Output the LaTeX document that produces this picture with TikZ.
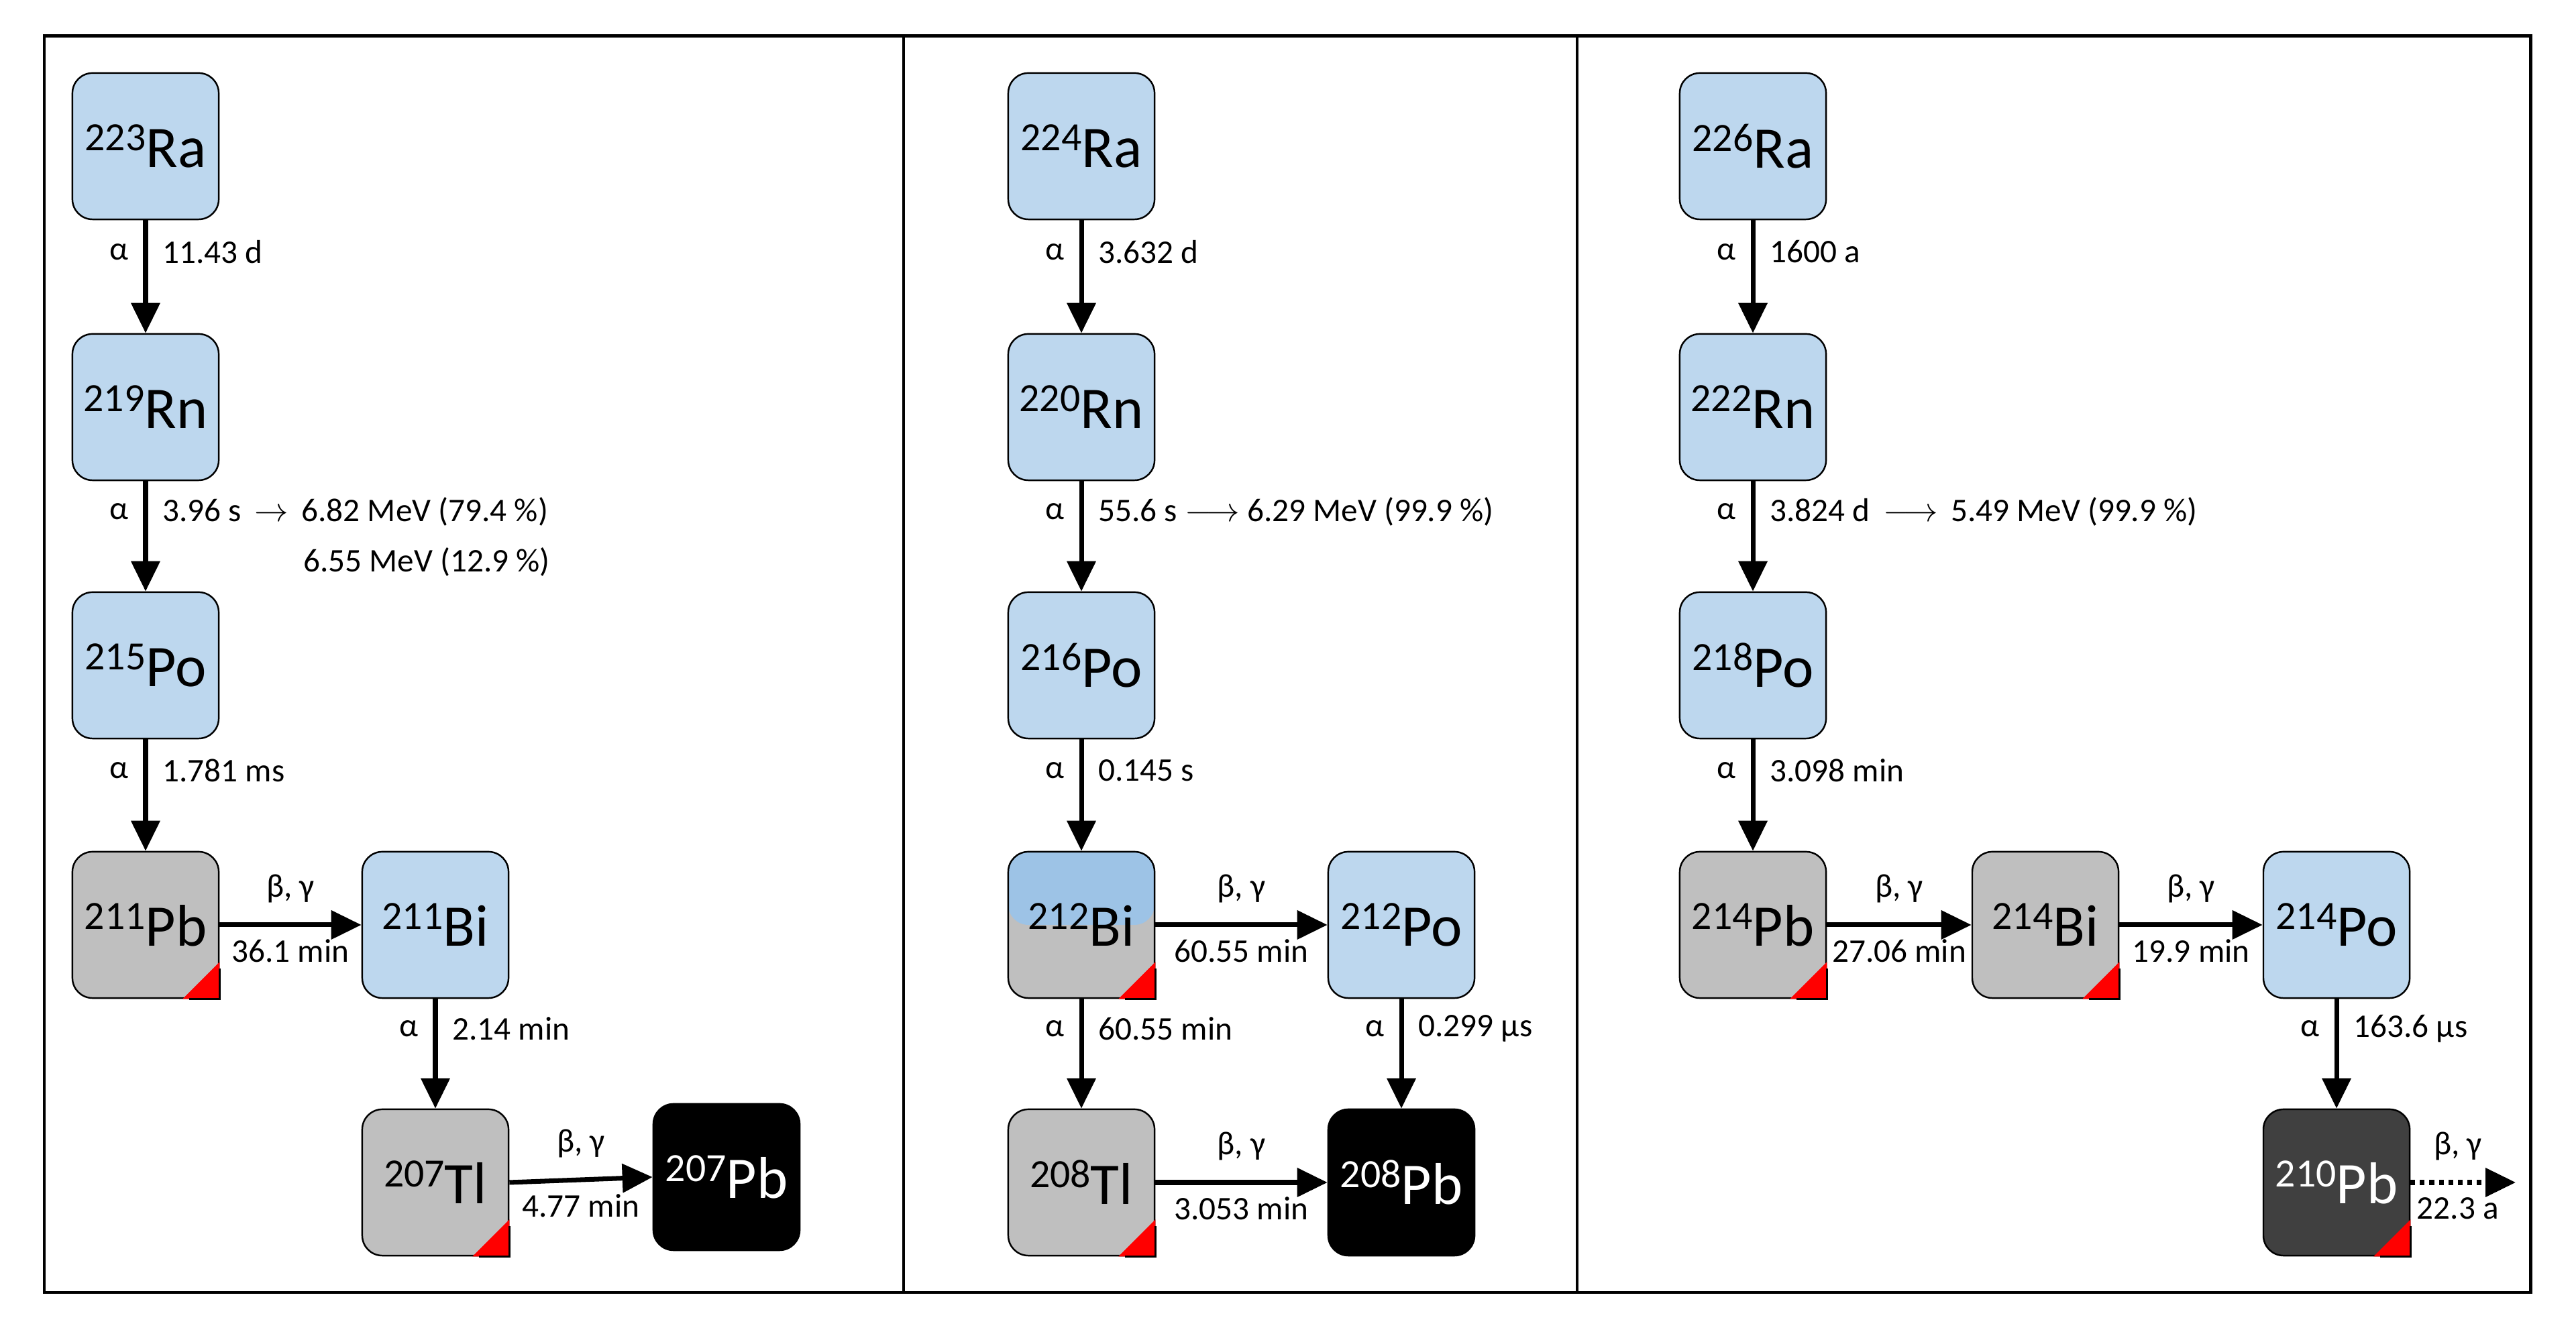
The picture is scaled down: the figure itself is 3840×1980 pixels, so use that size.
\documentclass[tikz,border=0pt]{standalone}
\usepackage{fontspec}
\setmainfont{Carlito}
\usetikzlibrary{arrows.meta}
\definecolor{lb}{HTML}{BDD7EE}
\definecolor{mb}{HTML}{9DC3E6}
\definecolor{gr}{HTML}{BFBFBF}
\definecolor{dg}{HTML}{404040}
\newcommand\iso[2]{{\fontsize{17}{17}\selectfont\raisebox{0.42em}{#1}}{\fontsize{25}{25}\selectfont #2}}
\newcommand\tri[1]{\fill[red] ([xshift=-0.55cm]#1.south east) -- (#1.south east) -- ([yshift=0.55cm]#1.south east) -- cycle;
 \draw[line width=0.7pt] ([xshift=-0.45cm]#1.south east) -- (#1.south east) -- ([yshift=0.45cm]#1.south east);}
\tikzset{
 box/.style={draw=black,line width=0.7pt,rounded corners=0.3cm,minimum width=2.18cm,minimum height=2.18cm,inner sep=0pt,text=black},
 blue/.style={box,fill=lb}, gray/.style={box,fill=gr},
 blk/.style={box,fill=black,text=white}, dark/.style={box,fill=dg,text=white},
 split/.style={box,fill=gr,path picture={\fill[mb] (path picture bounding box.north west) rectangle (path picture bounding box.east);}},
 arr/.style={line width=2pt,-{Triangle[length=0.45cm,width=0.42cm]}},
 lab/.style={font=\fontsize{14}{16}\selectfont,inner sep=0pt},
}
% vertical arrow with labels
\newcommand\varr[3]{\draw[arr] (#1.south) -- (#2.north) node[pos=0.5,yshift=0.37cm,xshift=-0.22cm,anchor=east,lab]{α} node[pos=0.5,yshift=0.37cm,xshift=0.22cm,anchor=west,lab]{#3};}
\newcommand\harr[3]{\draw[arr] (#1.east) -- (#2.west) node[pos=0.5,yshift=0.54cm,lab]{β, γ} node[pos=0.5,yshift=-0.39cm,lab]{#3};}
\begin{document}
\begin{tikzpicture}[x=0.01cm,y=0.01cm]
\useasboundingbox (0,0) rectangle (3840,1980);
\draw[line width=1.4pt] (66,53) rectangle (3772,1926);
\draw[line width=1.4pt] (1347,53) -- (1347,1926) (2351,53) -- (2351,1926);
% panel 1
\node[blue] (ra223) at (217,1762) {\iso{223}{Ra}};
\node[blue] (rn219) at (217,1373) {\iso{219}{Rn}};
\node[blue] (po215) at (217,988) {\iso{215}{Po}};
\node[gray] (pb211) at (217,601) {\iso{211}{Pb}};
\node[blue] (bi211) at (649,601) {\iso{211}{Bi}};
\node[gray] (tl207) at (649,217) {\iso{207}{Tl}};
\node[blk] (pb207) at (1083,225) {\iso{207}{Pb}};
\tri{pb211}\tri{tl207}
\varr{ra223}{rn219}{11.43 d}
\draw[arr] (rn219.south) -- (po215.north) node[pos=0.5,yshift=0.37cm,xshift=-0.22cm,anchor=east,lab]{α} node[pos=0.5,yshift=0.37cm,xshift=0.22cm,anchor=west,lab] (t1) {3.96 s \,$\rightarrow$\, 6.82 MeV (79.4 \%)};
\node[lab,anchor=north east] at ([yshift=-0.28cm]t1.south east) {6.55 MeV (12.9 \%)};
\varr{po215}{pb211}{1.781 ms}
\harr{pb211}{bi211}{36.1 min}
\varr{bi211}{tl207}{2.14 min}
\harr{tl207}{pb207}{4.77 min}
% panel 2
\node[blue] (ra224) at (1612,1762) {\iso{224}{Ra}};
\node[blue] (rn220) at (1612,1373) {\iso{220}{Rn}};
\node[blue] (po216) at (1612,988) {\iso{216}{Po}};
\node[split] (bi212) at (1612,601) {\iso{212}{Bi}};
\node[blue] (po212) at (2089,601) {\iso{212}{Po}};
\node[gray] (tl208) at (1612,217) {\iso{208}{Tl}};
\node[blk] (pb208) at (2089,217) {\iso{208}{Pb}};
\tri{bi212}\tri{tl208}
\varr{ra224}{rn220}{3.632 d}
\varr{rn220}{po216}{55.6 s $\longrightarrow$ 6.29 MeV (99.9 \%)}
\varr{po216}{bi212}{0.145 s}
\harr{bi212}{po212}{60.55 min}
\varr{bi212}{tl208}{60.55 min}
\varr{po212}{pb208}{0.299 µs}
\harr{tl208}{pb208}{3.053 min}
% panel 3
\node[blue] (ra226) at (2613,1762) {\iso{226}{Ra}};
\node[blue] (rn222) at (2613,1373) {\iso{222}{Rn}};
\node[blue] (po218) at (2613,988) {\iso{218}{Po}};
\node[gray] (pb214) at (2613,601) {\iso{214}{Pb}};
\node[gray] (bi214) at (3049,601) {\iso{214}{Bi}};
\node[blue] (po214) at (3483,601) {\iso{214}{Po}};
\node[dark] (pb210) at (3483,217) {\iso{210}{Pb}};
\coordinate (end) at (3750,217);
\tri{pb214}\tri{bi214}\tri{pb210}
\varr{ra226}{rn222}{1600 a}
\varr{rn222}{po218}{3.824 d \,$\longrightarrow$\, 5.49 MeV (99.9 \%)}
\varr{po218}{pb214}{3.098 min}
\harr{pb214}{bi214}{27.06 min}
\harr{bi214}{po214}{19.9 min}
\varr{po214}{pb210}{163.6 µs}
\draw[arr,dotted] (pb210.east) -- (end) node[pos=0.45,yshift=0.54cm,lab]{β, γ} node[pos=0.45,yshift=-0.39cm,lab]{22.3 a};
\end{tikzpicture}
\end{document}
